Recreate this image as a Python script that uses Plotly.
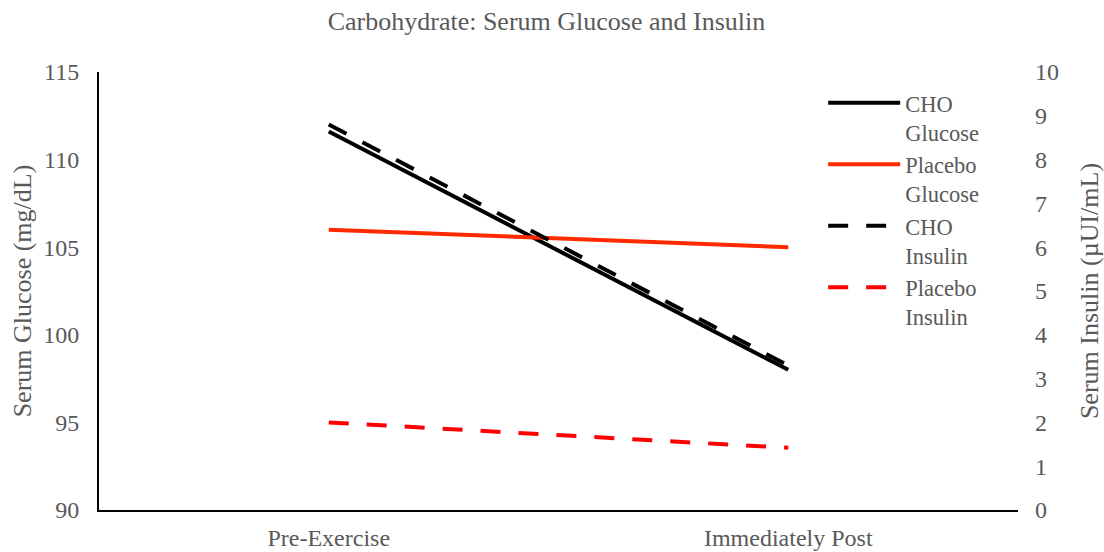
import plotly.graph_objects as go

categories = ["Pre-Exercise", "Immediately Post"]
cho_glucose = [111.6, 98.0]
placebo_glucose = [106.0, 105.0]
cho_insulin = [8.8, 3.3]
placebo_insulin = [2.0, 1.42]

series_names = ["CHO<br>Glucose", "Placebo<br>Glucose", "CHO<br>Insulin", "Placebo<br>Insulin"]

FONT = "'Liberation Serif', serif"
GRAY = "#595959"

fig = go.Figure()
fig.add_trace(go.Scatter(x=categories, y=cho_glucose, name=series_names[0], mode="lines",
                         line=dict(color="#000000", width=4)))
fig.add_trace(go.Scatter(x=categories, y=placebo_glucose, name=series_names[1], mode="lines",
                         line=dict(color="#FF2A00", width=4)))
fig.add_trace(go.Scatter(x=categories, y=cho_insulin, name=series_names[2], mode="lines", yaxis="y2",
                         line=dict(color="#000000", width=4, dash="20px,18px")))
fig.add_trace(go.Scatter(x=categories, y=placebo_insulin, name=series_names[3], mode="lines", yaxis="y2",
                         line=dict(color="#FF0000", width=4, dash="20px,18px")))

fig.update_layout(
    width=1104, height=552,
    margin=dict(l=99, r=86, t=72, b=42),
    paper_bgcolor="white", plot_bgcolor="white",
    font=dict(family=FONT, color=GRAY, size=24),
    title=dict(text="Carbohydrate: Serum Glucose and Insulin", x=0.495, xanchor="center",
               y=0.962, yanchor="middle", font=dict(size=26, color=GRAY, family=FONT)),
    xaxis=dict(range=[-0.5, 1.5], showgrid=False, showline=True, linecolor="#000000", linewidth=2,
               ticks="", tickfont=dict(size=24, color=GRAY, family=FONT), ticklabelstandoff=5,
               zeroline=False, automargin=False),
    yaxis=dict(range=[90, 115], dtick=5, showgrid=False, showline=True, linecolor="#000000", linewidth=2,
               ticks="", tickfont=dict(size=24, color=GRAY, family=FONT), ticklabelstandoff=13,
               zeroline=False, automargin=False,
               title=dict(text="Serum Glucose (mg/dL)", font=dict(size=26, color=GRAY, family=FONT),
                          standoff=4)),
    yaxis2=dict(range=[0, 10], dtick=1, overlaying="y", side="right", showgrid=False, showline=False,
                ticks="", tickfont=dict(size=24, color=GRAY, family=FONT), ticklabelstandoff=16,
                zeroline=False, automargin=False,
                title=dict(text="Serum Insulin (µUI/mL)", font=dict(size=26, color=GRAY, family=FONT),
                           standoff=24)),
    legend=dict(x=0.788, y=0.978, xanchor="left", yanchor="top", bgcolor="rgba(0,0,0,0)",
                font=dict(size=22.5, color=GRAY, family=FONT), valign="top", tracegroupgap=0,
                itemwidth=72),
    showlegend=True,
)

fig.write_html("out.html")
